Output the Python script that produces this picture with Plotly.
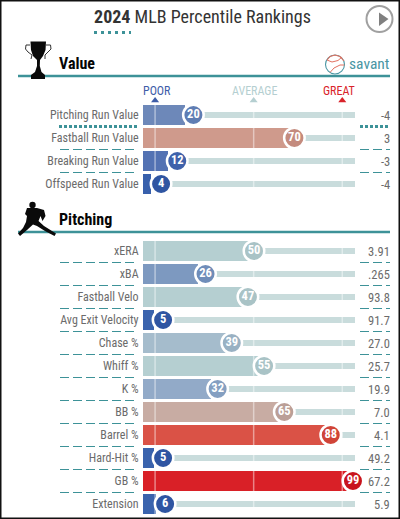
import plotly.graph_objects as go

value_names = ["Pitching Run Value", "Fastball Run Value", "Breaking Run Value", "Offspeed Run Value"]
value_pct = [20, 70, 12, 4]
value_stats = ["-4", "3", "-3", "-4"]
pitching_names = ["xERA", "xBA", "Fastball Velo", "Avg Exit Velocity", "Chase %", "Whiff %", "K %",
                  "BB %", "Barrel %", "Hard-Hit %", "GB %", "Extension"]
pitching_pct = [50, 26, 47, 5, 39, 55, 32, 65, 88, 5, 99, 6]
pitching_stats = ["3.91", ".265", "93.8", "91.7", "27.0", "25.7", "19.9", "7.0", "4.1", "49.2", "67.2", "5.9"]
scale_labels = ["POOR", "AVERAGE", "GREAT"]
scale_marks = [5.7, 52.2, 94.0]

# styles
value_colors = ["#6d88b9", "#cf9a8c", "#5372b3", "#3860ac"]
pitching_colors = ["#b5cfd1", "#7d99c0", "#b5cfd1", "#3a63ad", "#a5bccc", "#b5cfd1", "#92aac8",
                   "#c8aca3", "#da5246", "#3a63ad", "#d92027", "#3a63ad"]
value_circles = ["#5f7db3", "#c48b7e", "#3f62ab", "#2f55a2"]
pitching_circles = ["#a9c3c6", "#6f8db9", "#a9c3c6", "#2f55a2", "#99b1c3", "#a9c3c6", "#849fc1",
                    "#bb9f97", "#d04438", "#2f55a2", "#c8141d", "#2f55a2"]
scale_colors = ["#3e5da8", "#b5cfd1", "#d9232a"]
TEAL = "#3d9298"
FONT = "Roboto Condensed, Roboto, sans-serif"
W, H = 400, 519

names = value_names + pitching_names
pct = value_pct + pitching_pct
stats = value_stats + pitching_stats
colors = value_colors + pitching_colors
circles = value_circles + pitching_circles
rows = [115 + 23 * i for i in range(len(value_names))] + [251 + 23 * i for i in range(len(pitching_names))]

fig = go.Figure()
fig.add_trace(go.Bar(y=rows, x=[100] * len(rows), width=5.5, orientation="h",
                     marker=dict(color="#c9dcdc", line_width=0), hoverinfo="skip"))
fig.add_trace(go.Bar(y=rows, x=pct, width=20, orientation="h",
                     marker=dict(color=colors, line_width=0), hoverinfo="skip"))
gx, gy = [], []
for m in scale_marks:
    for r in rows:
        gx += [m, m, None]
        gy += [r - 10, r + 10, None]
fig.add_trace(go.Scatter(x=gx, y=gy, mode="lines", line=dict(color="rgba(255,255,255,0.45)", width=1.5),
                         hoverinfo="skip"))
fig.add_trace(go.Scatter(x=scale_marks, y=[100.5] * 3, mode="markers", hoverinfo="skip", cliponaxis=False,
                         marker=dict(symbol="triangle-up", size=7, color=scale_colors)))
fig.add_trace(go.Scatter(x=pct, y=rows, xaxis="x2", mode="markers+text", text=[str(p) for p in pct],
                         textposition="middle center", hoverinfo="skip", cliponaxis=False,
                         textfont=dict(family=FONT, size=12.5, color="white", weight="bold"),
                         marker=dict(size=20.5, color=circles, line=dict(color="white", width=2.5))))


def px(x):
    return x / W


def poly(points, color):
    d = "M " + " L ".join(f"{px(x):.4f},{y}" for x, y in points) + " Z"
    return dict(type="path", path=d, xref="paper", yref="y", fillcolor=color, line_width=0)


def hline(x0, x1, y, width=1, dash=None):
    return dict(type="line", xref="paper", yref="y", x0=px(x0), x1=px(x1), y0=y, y1=y,
                line=dict(color=TEAL, width=width, dash=dash or "solid"))


def ring(cx, cy, r, **kw):
    return dict(type="circle", xref="paper", yref="y", x0=px(cx - r), x1=px(cx + r), y0=cy - r, y1=cy + r, **kw)


def arc(points, color, width=1):
    d = "M " + " L ".join(f"{px(x):.4f},{y}" for x, y in points)
    return dict(type="path", path=d, xref="paper", yref="y", line=dict(color=color, width=width))


shapes = [
    hline(94, 131, 32.5, 3, "3px,4px"),
    hline(18, 390, 76, 2.5),
    hline(18, 390, 232, 2.5),
    hline(59, 138, 126.5, 3, "3px,2px"),
    hline(360, 390, 126.5, 3, "3px,2px"),
]
for i, r in enumerate(rows):
    if i in (0, len(value_names) - 1, len(rows) - 1):
        continue
    shapes += [hline(60, 138, r + 11.5, 1.2, "9px,4px"), hline(360, 390, r + 11.5, 1.2, "9px,4px")]

# play button
shapes += [ring(379.5, 19, 13, line=dict(color="#a0a0a0", width=2), fillcolor="rgba(0,0,0,0)"),
           poly([(379, 12.5), (379, 26), (388.5, 19)], "#808080")]
# savant ball
shapes += [ring(335, 64.5, 9.5, line=dict(color="#4a96a3", width=1.1), fillcolor="white"),
           arc([(327, 60), (330, 56.5), (335, 55), (340, 56.5), (344, 61)], "#e2705f", 1.1),
           arc([(327, 60), (332, 62), (338, 60.5), (342, 57)], "#e2705f", 1),
           arc([(330, 72.5), (334, 68), (340, 65), (344.5, 65)], "#e2705f", 1)]
# trophy
shapes += [poly([(30.5, 41.5), (46, 41.5), (45.5, 50), (43, 56), (40, 60), (39.8, 66), (41.5, 72), (45, 75),
                 (45, 79), (31, 79), (31, 75), (35, 72), (37, 66), (37, 60), (33, 56), (31, 50)], "#0a0a0a"),
           arc([(30, 45), (26, 45), (25.5, 49), (28, 52), (32, 55), (31, 59)], "#333333", 1),
           arc([(46, 45), (50.5, 45), (51, 49), (48, 52), (45, 55), (45, 59)], "#333333", 1)]
# pitcher
shapes += [ring(32.5, 205, 3.2, line_width=0, fillcolor="#0a0a0a"),
           poly([(27, 208), (37, 208), (44, 210), (45.5, 216), (42.5, 221), (40.5, 216), (38.5, 221), (44, 226),
                 (56, 233.5), (54.5, 236), (45, 231), (37, 226), (33, 224.5), (27, 230), (20, 236),
                 (18, 233.5), (23, 228), (26, 222), (27, 216), (25, 214)], "#0a0a0a")]
# page frame
shapes += [dict(type="rect", xref="paper", yref="paper", x0=0, x1=1, y0=0, y1=1,
                line=dict(color="#111111", width=3), fillcolor="rgba(0,0,0,0)")]

ann = []


def note(text, x, y, size=12, color="#6b6b6b", anchor="right", weight="normal"):
    ann.append(dict(text=text, x=px(x), y=y, xref="paper", yref="y", xanchor=anchor, yanchor="middle",
                    showarrow=False, font=dict(family=FONT, size=size, color=color, weight=weight)))


for r, s in zip(rows, stats):
    note(s, 391.5, r, 12.5)
note("Value", 56.5, 63, 16, "#050505", "left", "bold")
note("Pitching", 56.5, 219.5, 16, "#050505", "left", "bold")
note("savant", 347, 64, 15.5, "#4a96a3", "left")
for lab, c, x in zip(scale_labels, scale_colors, [156.5, 254, 339]):
    note(lab, x, 91, 12, c, "center")

fig.update_layout(
    width=W, height=H, margin=dict(l=0, r=0, t=0, b=0), showlegend=False, barmode="overlay",
    plot_bgcolor="white", paper_bgcolor="white", bargap=0,
    title=dict(text="<b>2024</b> MLB Percentile Rankings", x=202.5 / W, xanchor="center", xref="paper",
               y=1 - 17 / H, yanchor="middle", yref="paper", font=dict(family=FONT, size=18, color="#333333")),
    xaxis=dict(domain=[143 / W, 355 / W], range=[0, 100], visible=False, fixedrange=True),
    xaxis2=dict(domain=[143 / W, 355 / W], range=[-4.95, 100], overlaying="x", visible=False, fixedrange=True),
    yaxis=dict(domain=[0, 1], range=[H, 0], tickvals=rows, ticktext=names, showgrid=False, zeroline=False,
               showline=False, ticks="outside", ticklen=1, tickcolor="rgba(0,0,0,0)", fixedrange=True,
               tickfont=dict(family=FONT, size=12, color="#6b6b6b"), anchor="x"),
    shapes=shapes, annotations=ann,
)
fig.write_html("out.html", config=dict(displayModeBar=False),
               post_script="document.body.style.margin='0';")
